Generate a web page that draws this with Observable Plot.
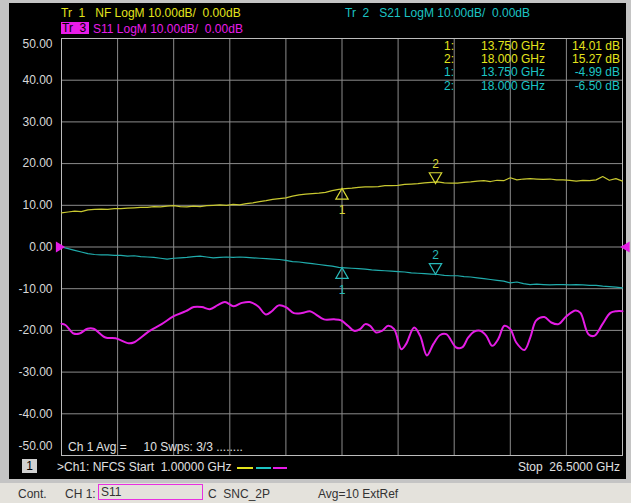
<!DOCTYPE html>
<html><head><meta charset="utf-8">
<script src="https://cdn.jsdelivr.net/npm/d3@7"></script>
<script src="https://cdn.jsdelivr.net/npm/@observablehq/plot@0.6"></script>
<style>
body{margin:0;background:#c4c4c4;font-family:"Liberation Sans",Arial,sans-serif;}
#wrap{position:relative;width:631px;height:503px;overflow:hidden;background:#c4c4c4;}
#black{position:absolute;left:9px;top:3px;width:617px;height:476px;background:#000;}
#status{position:absolute;left:0;top:483px;width:631px;height:20px;background:#e4e2dc;}
.t{position:absolute;white-space:pre;font-size:12px;line-height:12px;}
#plot{position:absolute;left:0;top:0;}
.dash{position:absolute;height:2px;top:467px;}
</style></head>
<body><div id="wrap">
<div id="black"></div>
<div id="status"></div>
<div id="plot"></div>
<div class="t" style="left:61px;top:7px;color:#e4e41c">Tr  1   NF LogM 10.00dB/  0.00dB</div>
<div class="t" style="left:61px;top:22px;width:27px;height:12px;background:#e81ce8;color:#000;padding-left:1px">Tr  3</div>
<div class="t" style="left:93px;top:23px;color:#e81ce8">S11 LogM 10.00dB/  0.00dB</div>
<div class="t" style="left:345px;top:7px;color:#1cc4c4">Tr  2   S21 LogM 10.00dB/  0.00dB</div>
<div class="t" id="mk" style="left:0;top:0"></div>
<div class="t" style="left:68px;top:441px;color:#e0e0e0">Ch 1 Avg =     10 Swps: 3/3 ........</div>
<div class="t" style="left:22px;top:459px;width:15px;height:14px;line-height:14px;background:#d0d0d0;color:#000;text-align:center">1</div>
<div class="t" style="left:57px;top:461px;color:#e0e0e0">&gt;Ch1: NFCS Start  1.00000 GHz</div>
<div class="dash" style="left:237px;width:16px;background:#e4e41c"></div>
<div class="dash" style="left:256px;width:15px;background:#1cc4c4"></div>
<div class="dash" style="left:273px;width:14px;background:#e81ce8"></div>
<div class="t" style="left:500px;width:120px;text-align:right;top:461px;color:#e0e0e0">Stop  26.5000 GHz</div>
<div class="t" style="left:18px;top:488px;color:#333">Cont.</div>
<div class="t" style="left:65px;top:488px;color:#333">CH 1:</div>
<div class="t" style="left:98px;top:484px;width:101px;height:14px;line-height:14px;border:1.5px solid #e830e0;color:#333;padding-left:2px">S11</div>
<div class="t" style="left:208px;top:488px;color:#333">C  SNC_2P</div>
<div class="t" style="left:318px;top:488px;color:#333">Avg=10 ExtRef</div>
</div>
<script>
const freqs = [1.0,1.3,1.6,1.9,2.2,2.5,2.8,3.1,3.4,3.7,4.0,4.3,4.6,4.9,5.2,5.5,5.8,6.1,6.4,6.7,7.0,7.3,7.6,7.9,8.2,8.5,8.8,9.1,9.4,9.7,10.0,10.3,10.6,10.9,11.2,11.5,11.8,12.1,12.4,12.7,13.0,13.3,13.6,13.9,14.2,14.5,14.8,15.1,15.4,15.7,16.0,16.3,16.6,16.9,17.2,17.5,17.8,18.1,18.4,18.7,19.0,19.3,19.6,19.9,20.2,20.5,20.8,21.1,21.4,21.7,22.0,22.3,22.6,22.9,23.2,23.5,23.8,24.1,24.4,24.7,25.0,25.3,25.6,25.9,26.2,26.5];
const nfDb = [8.2,8.4,8.6,8.5,8.9,9.0,9.1,9.0,9.2,9.2,9.3,9.4,9.5,9.5,9.7,9.6,9.8,9.9,9.7,9.6,9.8,9.7,9.9,10.0,10.1,10.0,10.2,10.1,10.4,10.6,10.9,11.1,11.4,11.6,11.8,12.2,12.5,12.7,12.8,12.9,13.1,13.5,13.8,14.0,14.1,14.3,14.4,14.4,14.5,14.7,14.7,14.8,15.0,15.1,15.2,15.4,15.5,15.6,15.4,15.3,15.3,15.5,15.6,15.8,15.9,15.7,16.0,15.9,16.6,16.1,16.3,16.4,16.3,16.2,16.3,16.1,16.1,16.0,15.8,16.0,15.9,16.1,16.9,16.0,16.4,15.8];
const s21Db = [0.0,-0.4,-0.8,-1.2,-1.6,-1.8,-1.9,-1.9,-2.0,-2.0,-2.2,-2.1,-2.3,-2.4,-2.5,-2.7,-2.9,-2.7,-2.6,-2.5,-2.3,-2.2,-2.4,-2.6,-2.5,-2.4,-2.5,-2.4,-2.5,-2.6,-2.7,-2.8,-2.9,-3.0,-3.2,-3.5,-3.6,-3.8,-4.0,-4.2,-4.4,-4.6,-4.9,-5.0,-5.1,-5.2,-5.3,-5.5,-5.6,-5.7,-5.8,-5.9,-6.0,-6.2,-6.3,-6.4,-6.5,-6.6,-6.8,-6.9,-6.9,-7.1,-7.2,-7.4,-7.6,-7.8,-8.0,-8.2,-8.6,-8.4,-8.8,-9.0,-8.9,-9.0,-9.1,-9.0,-9.0,-9.1,-9.0,-9.1,-9.2,-9.2,-9.4,-9.5,-9.6,-9.8];
const s11Freq = [1.0,1.18,1.55,1.82,2.18,2.46,3.0,3.46,4.06,4.28,5.01,5.55,6.1,6.65,7.01,7.38,7.74,8.1,8.43,8.83,9.2,9.56,9.93,10.29,10.56,10.87,11.2,11.56,11.93,12.29,12.57,12.93,13.39,13.71,14.02,14.3,14.57,14.81,15.03,15.3,15.57,15.85,16.12,16.45,16.66,17.03,17.3,17.61,17.9,18.21,18.49,18.94,19.21,19.49,19.76,20.03,20.31,20.58,20.85,21.13,21.4,21.67,22.04,22.31,22.58,22.95,23.26,23.59,23.95,24.37,24.59,24.95,25.22,25.59,25.95,26.23,26.5];
const s11Db = [-18.4,-18.7,-20.75,-20.75,-19.6,-19.6,-21.7,-21.9,-23.1,-22.9,-20.1,-18.5,-16.6,-15.4,-14.4,-14.4,-14.9,-13.95,-13.2,-14.2,-13.4,-13.2,-14.2,-16.2,-15.4,-14.0,-14.4,-15.85,-15.85,-15.4,-16.2,-17.35,-17.35,-17.6,-18.9,-20.1,-19.7,-18.5,-18.9,-20.5,-20.1,-18.9,-19.7,-24.5,-23.3,-19.3,-21.3,-26.0,-23.3,-21.1,-20.9,-24.1,-24.1,-21.7,-20.3,-20.1,-21.3,-23.7,-22.1,-18.9,-19.7,-22.9,-24.7,-21.7,-17.6,-16.8,-18.1,-18.5,-16.6,-15.2,-15.8,-20.9,-21.3,-18.5,-15.8,-15.4,-15.4];
const yTicks = [50,40,30,20,10,0,-10,-20,-30,-40,-50];
const xGrid = [1,3.55,6.1,8.65,11.2,13.75,16.3,18.85,21.4,23.95,26.5];
const markerNames = ["1","2"];
const markerFreq = [13.75,18.0];
const markerFreqText = ["13.750 GHz","18.000 GHz"];
const markerNf = [14.01,15.27];
const markerS21 = [-4.99,-6.50];

const YEL = "#c8c830", CYA = "#20acac", MAG = "#e41ce4";
const nf = freqs.map((f,i)=>({f, db:nfDb[i]}));
const s21 = freqs.map((f,i)=>({f, db:s21Db[i]}));
const s11 = s11Freq.map((f,i)=>({f, db:s11Db[i]}));
const mNf = markerFreq.map((f,i)=>({f, db:markerNf[i], n:markerNames[i], i}));
const mS21 = markerFreq.map((f,i)=>({f, db:markerS21[i], n:markerNames[i], i}));
const fmt = d=>d.toFixed(2);

function markerMarks(data, color){
  const up = data.filter(d=>d.i===0), dn = data.filter(d=>d.i===1);
  return [
    Plot.dot(up,{x:"f",y:"db",symbol:"triangle",r:4.6,stroke:color,strokeWidth:1.2,fill:"none",dy:7}),
    Plot.text(up,{x:"f",y:"db",text:"n",fill:color,dy:22,fontSize:12}),
    Plot.dot(dn,{x:"f",y:"db",symbol:"triangle",r:4.6,rotate:180,stroke:color,strokeWidth:1.2,fill:"none",dy:-7}),
    Plot.text(dn,{x:"f",y:"db",text:"n",fill:color,dy:-19,fontSize:12})
  ];
}

const chart = Plot.plot({
  width:631, height:503,
  marginLeft:61, marginRight:9, marginTop:38, marginBottom:48,
  style:{background:"transparent", color:"#d8d8d8", fontFamily:"Liberation Sans, Arial, sans-serif", fontSize:"12px", overflow:"visible"},
  x:{domain:[1,26.5], axis:null},
  y:{domain:[-50,50], axis:null},
  marks:[
    Plot.gridX(xGrid,{stroke:"#8c8c8c", strokeOpacity:1}),
    Plot.gridY(yTicks,{stroke:"#8c8c8c", strokeOpacity:1}),
    Plot.frame({stroke:"#bcbcbc"}),
    Plot.axisY(yTicks.slice(1,-1),{tickSize:0,tickPadding:9,tickFormat:fmt,fill:"#d8d8d8",fontSize:12,label:null}),
    Plot.axisY([50],{tickSize:0,tickPadding:9,tickFormat:fmt,fill:"#d8d8d8",fontSize:12,dy:6,label:null}),
    Plot.axisY([-50],{tickSize:0,tickPadding:9,tickFormat:fmt,fill:"#d8d8d8",fontSize:12,dy:-9,label:null}),
    Plot.line(s11,{x:"f",y:"db",stroke:MAG,strokeWidth:2,curve:"catmull-rom"}),
    Plot.line(nf,{x:"f",y:"db",stroke:YEL,strokeWidth:1.2}),
    Plot.line(s21,{x:"f",y:"db",stroke:CYA,strokeWidth:1.2}),
    ...markerMarks(mNf, "#d8d834"),
    ...markerMarks(mS21, "#28b8b8"),
    Plot.dot([{f:1,db:0}],{x:"f",y:"db",symbol:"triangle",r:4,rotate:90,fill:MAG,dx:-2.5}),
    Plot.dot([{f:26.5,db:0}],{x:"f",y:"db",symbol:"triangle",r:4,rotate:-90,fill:MAG,dx:4})
  ]
});
document.getElementById("plot").appendChild(chart);

// marker readout table
const rows = [];
markerNames.forEach((n,i)=>rows.push({n, f:markerFreqText[i], v:markerNf[i].toFixed(2)+" dB", c:"#e4e41c"}));
markerNames.forEach((n,i)=>rows.push({n, f:markerFreqText[i], v:markerS21[i].toFixed(2)+" dB", c:"#1cc4c4"}));
const rowY = [40,53,66,80];
const mk = document.getElementById("mk");
rows.forEach((r,k)=>{
  const a = document.createElement("div"); a.className="t";
  a.style.cssText = `left:400px;width:54px;text-align:right;top:${rowY[k]}px;color:${r.c}`; a.textContent = r.n+":";
  const b = document.createElement("div"); b.className="t";
  b.style.cssText = `left:440px;width:105px;text-align:right;top:${rowY[k]}px;color:${r.c}`; b.textContent = r.f;
  const c = document.createElement("div"); c.className="t";
  c.style.cssText = `left:540px;width:80px;text-align:right;top:${rowY[k]}px;color:${r.c}`; c.textContent = r.v;
  mk.appendChild(a); mk.appendChild(b); mk.appendChild(c);
});
</script>
</body></html>
